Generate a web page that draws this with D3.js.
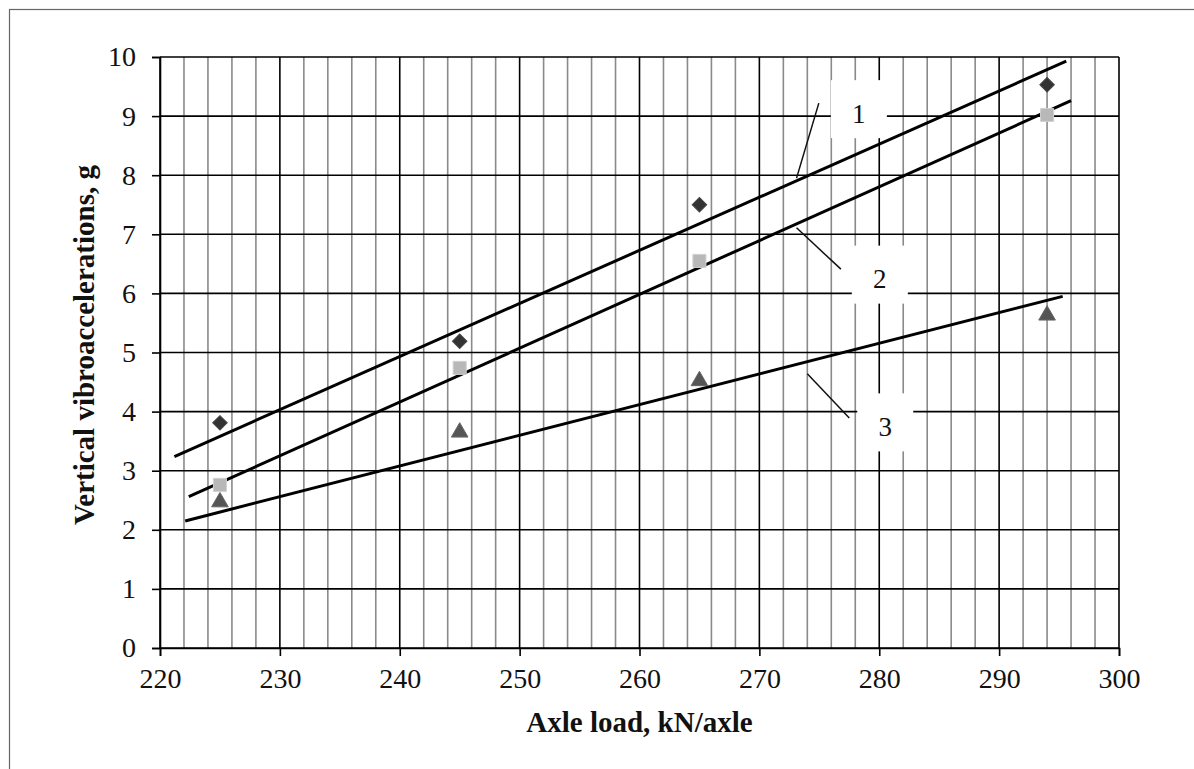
<!DOCTYPE html>
<html>
<head>
<meta charset="utf-8">
<script src="https://d3js.org/d3.v7.min.js"></script>
<style>
  body { margin: 0; background: #fff; }
  text { font-family: "Liberation Serif", "Times New Roman", serif; }
</style>
</head>
<body>
<div id="chart"></div>
<script>
// axis ticks
var xTicks = [220, 230, 240, 250, 260, 270, 280, 290, 300];
var xMinor = [222, 224, 226, 228, 232, 234, 236, 238, 242, 244, 246, 248,
              252, 254, 256, 258, 262, 264, 266, 268, 272, 274, 276, 278,
              282, 284, 286, 288, 292, 294, 296, 298];
var yTicks = [0, 1, 2, 3, 4, 5, 6, 7, 8, 9, 10];

// measured points (axle load, kN/axle)
var loads = [225, 245, 265, 294];
var series1 = [3.81, 5.19, 7.5, 9.53];   // diamonds
var series2 = [2.76, 4.74, 6.55, 9.02];  // squares
var series3 = [2.47, 3.65, 4.52, 5.63];  // triangles

// trend lines, start and end point
var trend1 = [[221.2, 3.24], [295.6, 9.93]];
var trend2 = [[222.4, 2.56], [296.0, 9.26]];
var trend3 = [[222.1, 2.15], [295.3, 5.95]];

// curve numbers and their leader lines
var labelText = ["1", "2", "3"];
var labelPos = [[278.3, 9.05], [280.05, 6.25], [280.5, 3.75]];
var leaders = [
  [[274.96, 9.22], [273.1, 7.95]],
  [[273.1, 7.11], [276.8, 6.41]],
  [[274.0, 4.64], [277.5, 3.89]]
];

var width = 1194;
var height = 769;

var svg = d3.select('#chart')
  .append('svg')
  .attr('width', width)
  .attr('height', height);

// thin frame round the whole figure
svg.append('rect')
  .attr('x', 9.5).attr('y', 9.5)
  .attr('width', 1300).attr('height', 900)
  .attr('fill', 'none')
  .attr('stroke', '#666')
  .attr('stroke-width', 1.2);

var x = d3.scaleLinear().domain([220, 300]).range([160, 1119]);
var y = d3.scaleLinear().domain([0, 10]).range([648, 57]);

// minor vertical grid every 2 kN (grey)
svg.append('g')
  .selectAll('line')
  .data(xMinor)
  .enter()
  .append('line')
  .attr('x1', function(d) { return x(d); })
  .attr('x2', function(d) { return x(d); })
  .attr('y1', y(0))
  .attr('y2', y(10))
  .attr('stroke', '#8a8a8a')
  .attr('stroke-width', 1.6);

// major vertical grid
svg.append('g')
  .selectAll('line')
  .data(xTicks)
  .enter()
  .append('line')
  .attr('x1', function(d) { return x(d); })
  .attr('x2', function(d) { return x(d); })
  .attr('y1', y(0))
  .attr('y2', y(10))
  .attr('stroke', '#000')
  .attr('stroke-width', 1.6);

// horizontal grid
svg.append('g')
  .selectAll('line')
  .data(yTicks)
  .enter()
  .append('line')
  .attr('x1', x(220))
  .attr('x2', x(300))
  .attr('y1', function(d) { return y(d); })
  .attr('y2', function(d) { return y(d); })
  .attr('stroke', '#000')
  .attr('stroke-width', 1.6);

// axes with the d3 axis generators
var xAxis = svg.append('g')
  .attr('transform', 'translate(0,' + y(0) + ')')
  .call(d3.axisBottom(x).tickValues(xTicks).tickSize(8).tickPadding(12));

var yAxis = svg.append('g')
  .attr('transform', 'translate(' + x(220) + ',0)')
  .call(d3.axisLeft(y).tickValues(yTicks).tickSize(8).tickPadding(16));

[xAxis, yAxis].forEach(function(a) {
  a.select('.domain').attr('stroke', '#000').attr('stroke-width', 1.6);
  a.selectAll('.tick line').attr('stroke', '#000').attr('stroke-width', 1.6);
  a.selectAll('.tick text')
    .attr('fill', '#111')
    .style('font-family', '"Liberation Serif", serif')
    .style('font-size', '28px');
});

// white patches behind curve numbers (they hide the grid)
var boxW = 56, boxH = 58;
svg.append('g')
  .selectAll('rect')
  .data(labelPos)
  .enter()
  .append('rect')
  .attr('x', function(d) { return x(d[0]) - boxW / 2; })
  .attr('y', function(d) { return y(d[1]) - boxH / 2 - 4; })
  .attr('width', boxW)
  .attr('height', boxH)
  .attr('fill', '#fff');

// trend lines
var line = d3.line()
  .x(function(d) { return x(d[0]); })
  .y(function(d) { return y(d[1]); });

svg.append('g')
  .selectAll('path')
  .data([trend1, trend2, trend3])
  .enter()
  .append('path')
  .attr('d', line)
  .attr('fill', 'none')
  .attr('stroke', '#000')
  .attr('stroke-width', 3);

// leader lines
svg.append('g')
  .selectAll('path')
  .data(leaders)
  .enter()
  .append('path')
  .attr('d', line)
  .attr('fill', 'none')
  .attr('stroke', '#111')
  .attr('stroke-width', 1.5);

svg.append('g')
  .selectAll('text')
  .data(labelText)
  .enter()
  .append('text')
  .attr('x', function(d, i) { return x(labelPos[i][0]); })
  .attr('y', function(d, i) { return y(labelPos[i][1]); })
  .attr('text-anchor', 'middle')
  .attr('dy', '0.35em')
  .style('font-size', '27px')
  .attr('fill', '#111')
  .text(function(d) { return d; });

// markers: squares first, then triangles and diamonds on top
var sym = d3.symbol();
var markerSets = [
  { data: series2, type: d3.symbolSquare, size: 170, rot: 0, fill: '#b8b8b8', stroke: '#d0d0d0' },
  { data: series3, type: d3.symbolTriangle, size: 120, rot: 0, fill: '#555', stroke: '#666' },
  { data: series1, type: d3.symbolSquare, size: 105, rot: 45, fill: '#333', stroke: '#444' }
];

markerSets.forEach(function(m) {
  svg.append('g')
    .selectAll('path')
    .data(m.data)
    .enter()
    .append('path')
    .attr('transform', function(d, i) {
      return 'translate(' + x(loads[i]) + ',' + y(d) + ') rotate(' + m.rot + ')';
    })
    .attr('d', sym.type(m.type).size(m.size)())
    .attr('fill', m.fill)
    .attr('stroke', m.stroke)
    .attr('stroke-width', 1);
});

// axis titles
svg.append('text')
  .attr('x', (x(220) + x(300)) / 2)
  .attr('y', 732)
  .attr('text-anchor', 'middle')
  .style('font-size', '29px')
  .style('font-weight', 'bold')
  .attr('fill', '#111')
  .text('Axle load, kN/axle');

svg.append('text')
  .attr('transform', 'translate(94,' + 345 + ') rotate(-90)')
  .attr('text-anchor', 'middle')
  .style('font-size', '29px')
  .style('font-weight', 'bold')
  .attr('fill', '#111')
  .text('Vertical vibroaccelerations, g');
</script>
</body>
</html>
